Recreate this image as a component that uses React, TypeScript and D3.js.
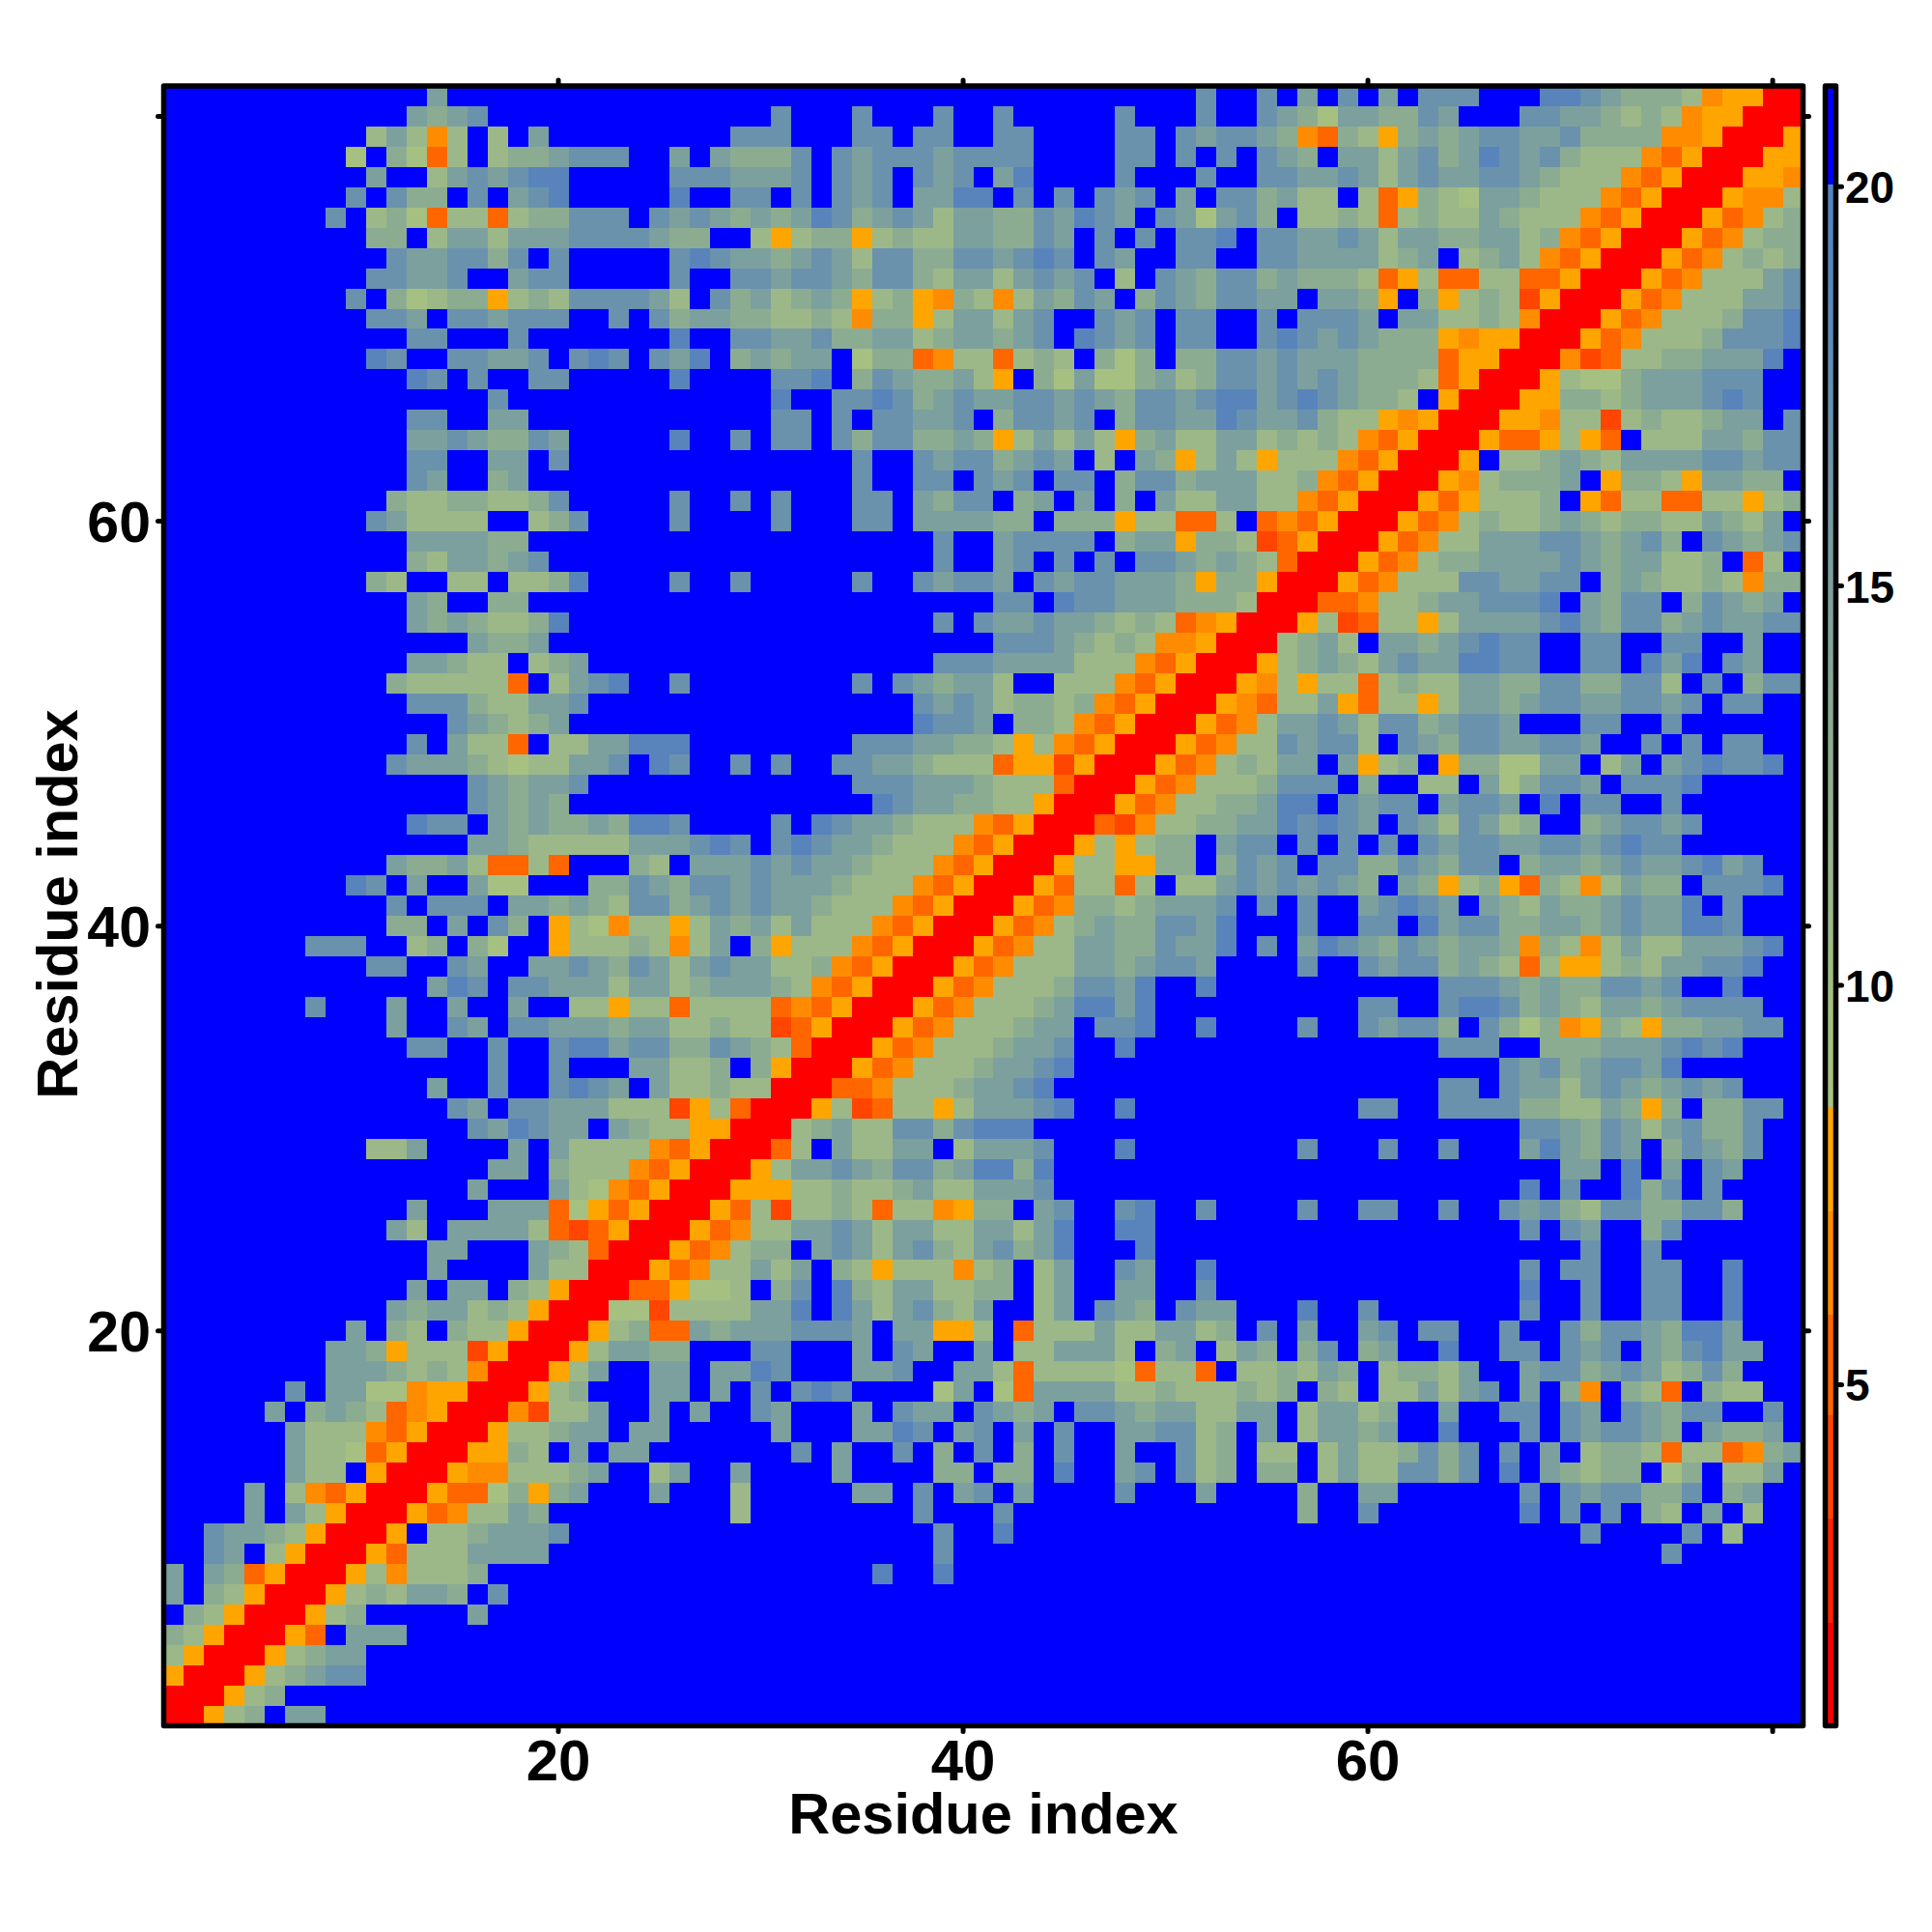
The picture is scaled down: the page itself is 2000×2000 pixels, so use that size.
import React from "react";
import * as d3 from "d3";

// Estimated pairwise distance per symbol, read from the colours of the picture.
const symbolValues: Record<string, number> = {
  ".": 21, l: 19, k: 17, j: 15, i: 13, h: 11, g: 9.5, a: 7.8, b: 6.5, c: 5.2, d: 3.9, r: 1.4,
};

// Rows run from residue 81 (top) to residue 1 (bottom). Residues 1-27.
const leftColumns = [
".............j.............",
"............jijk...........",
"..........hjhbh.h.j........",
".........g.igch.hiijkkk..j.",
"..........j..hjkjkll.....kk",
".........k.kii.k.jkl.....l.",
"........k.higchhchiikkk.kjk",
"..........ii.hjjhjjjkkkkjii",
"...........kjjkkik.k.....kl",
"..........kkjjk..jkk.....k.",
".........k.ighiiahihkkkkjh.",
"..........kkj.kkjkkk..k.kij",
"............kk...k.......l.",
"..........lk..kkjjk.klk.kjl",
"............lk.k..kk.....l.",
"................k..........",
"............kk..jj.........",
"............jjkjiikj.....l.",
"............kk..jj.k.......",
"............kj..ij.........",
"...........ihhiihhik.....k.",
"..........kjhhhh..hik....k.",
"............jjjjii.........",
"............ihjjijk........",
"..........ih..hh.hhil....k.",
"............ji..ii.........",
"............jijihhil.......",
"...............jiij........",
"............jjihh.hij......",
"...........ihhhhhc.hjkl..k.",
"............kkkihhjjk......",
"..............kjihij.......",
"............k.jhhc.hhjjlll.",
"...........kjjjihghhjjk.lk.",
"...............kjijjk......",
"...............kjiji.......",
"............lkk.jijiijillk.",
"...............jjihhhhhjjjk",
"...........jiijhcchc...ih.j",
".........lk.j..jgg...iikjik",
"...........k.kkk.jjijihkkij",
"...........ii.j.ki.ahgbhhah",
".......kkk..hi.ig..ahhhihbh",
"..........kk..kj..jjkjikjhj",
".............jlk.kkjjjhjjhi",
".......k...j..j..j..hhahhch",
"...........j..kj.kkjjjijjhh",
"............kk..k..klljkkii",
"................k..k...jjhh",
".............j..k..klkj.jhh",
"..............kj.kkjjjhhhda",
"...............kjlkjj.jihha",
"..........hhj....j.jhhhhbca",
"................jj.ihhhbcar",
"...............j...jhgbcarr",
"............j...jjjcgacarrr",
"...........jh.jjjjhcdcarrra",
".............jj...jihcrrrac",
".............j....jhhrrracb",
"............j.jj.iharrrccag",
"...........jijjhiharrrggdhh",
".........j.ih.ihharrrahiccj",
"........jjiahhhdarrrahjjii.",
"........jjjihihbrrrahj..jj.",
"......k.jjggbaarrrahi...jj.",
".....j.ijihcbarrrbdhhj..j.j",
"......jhhhbcarrrahhijj.jj..",
"......jhhgcarrraaih.j.jj...",
"......jhh.arrrabbhhhij..hj.",
"....j.hbcarrraccgiaij...j..",
"....j.jharrracbhhji........",
"..kjjiharrra.hhijjjk.......",
"..kj.harrrachhhjjjj........",
"j.jicarrrahbhhhi...........",
"j.iharrrahihjji.k..........",
".iharrrahi.....j...........",
"iharrrac.jjj...............",
"harrrahijj.................",
"arrrahijkk.................",
"rrrahi.....................",
"rrahi.jj...................",
];

// Residues 28-54.
const middleColumns = [
"........................k..",
"...k...k...k..k.....k...k..",
".kkk...kk.kk..kk....kk.kjkk",
"jiiik.kjkkkjkkkk....kk.k.k.",
"kjjjk.kjk.kjk.jl....k...k..",
".kk.k.kjk.jjll.k.k.kjk.j.kk",
"jijijlkijkjhjjiikjlkj.kjgjk",
"..hahiiahihhjjiikj.k.k.kkl.",
"kjjijkjhkkiikkjklk.kj..kk..",
".kkjkkjikkihjjhjkjk.h.kjikk",
"kijhijiahiabihbhjikj.ikjikk",
"jiihhihbiiahjjhjk..kjk.kk..",
".kkjjkiijjhijjijk.lkjk.kk..",
".ijijj.giicbhhchih.igi.iikk",
"...kkl.ikjiijha.igjggijhikk",
"...l..kklkijkjjkkjkjikkjkll",
"...kk.k.kkjjk.ikkjk.ikkjjlk",
".k.kk.kikkiijiahjhjhaijhhjj",
".......k..kjkkijkj.h.jiahjh",
".......k..kk.kjk.kk.ikkijjj",
".k.k...kk.jikk.ij.j.i.jhhjj",
"...k...kk.jjjjii.iiiahhcch.",
"...........k..jkkkk.ijjaiih",
"...........k..jk.k.k.kkjiji",
".k.....k..kjkkj.kjkkjjjiaii",
"..............kk.lkkjjjiiih",
"...........k.kjjkjjihihcbar",
"..............kkkjihihbbarr",
"...........kkkjjjjhhhbcarrr",
".......k.kjijjh..hhhbcarrra",
"..........kjkjhiihibcarrrab",
"..........lkkj.iihbcarrracb",
".......kkkjjiihahbcarrracbh",
".k.k..kkjjihhhcaadarrracbhi",
".......kkkjjjihhhcrrracbhhh",
"........lkjjiihharrracbhhii",
"...k.lkjjihhhbcarrrcdbhhiij",
"lk.klkjjihhhbcarrrahahii.jk",
"jjkjkjjihhhbcarrrahhaaii.ik",
"kjkjjjihhhbcarrrachhch.hhjk",
"kjkjjihhhbcarrracbiihijjjk.",
"jijhjhhhbcarrracbhijiikkjl.",
"j.iahhhbcarrracbhhjjiikjjl.",
"kjjhhibcarrracbhhhjjijkkj..",
"jjjihbcarrracbhhhikkjl..l..",
"hhhcbcarrracbhhhijlljl.....",
"ihhdcarrracbhhhijj.kkl..l..",
"kjihcrrracbhhhijjk..l......",
"i.iarrracbhhhijjkl.........",
"ihhrrrccbhhhijjkl..........",
"hcrrrahdchhahjjjkl..l......",
"arrrhijhhkkiklll...........",
"rrrch.jhhjj.hjjjk...l......",
"rrahjjkjikkijllil..........",
"raaahhihhijhhjjjk..........",
"achdhhihchhbaii.jk..kl..k..",
"cbhhjjkjhjjhhjjhjl..ll.....",
"bhii.jkjhjkihjkijl...l.....",
"hhjhj.ihahhhbhi.hj..kj..l..",
"gh.ik.lihjjhhii.hj..jj..k..",
"hhjjl.ljhjkihj..hj.kji.kjj.",
"ijjjkkkj.jjaah.chhhjhhjjhi.",
"..kk...j.kj..j.hhjjjh.ij.hj",
"jjlk...jjk..jjhchhhhgchhc.h",
"j.k.klk....gj.gcjjjjhhihhhi",
"..kj...j.kjj.kjij.kkjijjhhj",
"...j...jjlk.jk.j.k..jjkkhi.",
"....k.j..k.i.k.i.k..j..khi.",
".j....j....ii.ii.l..jk.khi.",
".h.....jj.k.jk.j....k...j..",
".h........k...k............",
"...........k..l............",
"...........k...............",
"........l..l...............",
"...........................",
"...........................",
"...........................",
"...........................",
"...........................",
"...........................",
"...........................",
];

// Residues 55-81.
const rightColumns = [
"k.j.k.j.kkk...llkjiiihbaarr",
"kjigjjiikj...kkjjihihbaarrr",
"jibcihaijijkkjjkiiiibbarrra",
"kji.jjhjkijlkjkihhhbcarrraa",
"kkjjkjhjkjjkkjihhhbcarrraab",
"ijhh.hcaihgjjihhhbcarrrabbh",
"i.hhihchihhjihhhbcarrracbhi",
"kkjjkjhjjiijjhibcarrracbhii",
"kkjjjjhij.hijhbcarrracbhihi",
"ijiiihcahcchhccarrracbhhhjk",
"jj.jjia.iahihdarrracbhhhjjk",
"k.kkkj.jjhhihbrrracbhhhikkl",
"klkjkjiiiabaarrracbhhhikkkl",
"jkjjjiiiicaarrrbdchhiijjjl.",
"jkjkjiiihcarrrahggijjjkkk..",
"jklkjiih.arrraaiihijjjklk..",
"jjkihhabarrraabhhdhihhijj.k",
"hihihbcarrraccahac.hhhjjikk",
"ahhhbcarrra.hhijihjjjjkkjkk",
"hhibcarrrabhiiij.aiihajjii.",
"hhbcarrracahhhi.achhcchhahi",
"cbcarrracbhihhijihiihhjihj.",
"dcarrracbhhjjjkkjijki.kjijk",
"hcrrracbhiijjjjkjijjhhi.ch.",
"arrracbhhhkkjjkk.ijihhihbii",
"rrrccbhhijjkkkl.jikk.ikjij.",
"rrahdchhahjjjjkljikkijkjjkk",
"rhijh.jjijklkk..kk..kk..j..",
"ahijihjkjjllkk..kk.ljl.kj..",
"bhahhchihhjjiikkiikkh.k.ikk",
"chhjachhahjjijkkjjkkjk.kk..",
"hjjkjhkkijkkj...kk..k......",
"hkjkkh.kjikkjjkkj..k.k.kk..",
"hjj.jahi.aiiggjj.hj.jklkkl.",
"ikkk.i..hh.jgikkj.kkkl.....",
"jll.kjkk.jkkj.l.kk..k......",
"jlklkj.kjhkjhi..ijkkjk.....",
"k.k.k.k.kjkkjjkkjklkk......",
"jk.kkiikjikk.ijjijkjjkljk..",
"jkjkji.jiahiacihbhjii.kkkl.",
"k.k..jklkj.jihjiijkjjl.k...",
"..k..kk.ljkkiijjijkjjllk...",
"k.jlkjikjijjibihbhjhhjjjkl.",
"..k..kjkkijihchaahihjjkkl..",
".........kkkjijiikkjk..l...",
".....kk..kllkijihjjijkkkk..",
"..k..kjkki.kigibaihaiijjkk.",
".........kkk..iiijjjklkl...",
"............kjkijkkjl......",
".........kk.kjjhjkjijkjk...",
".....kk..kkkkiihhjiai.iikk.",
".............kkjikjhjkiik..",
"..k...k..k...jljikj.ikjik..",
"...............jj.l.j.kj...",
".............l.k..lik.k....",
"..k..kk..k..kjkihkkiikki...",
".............k.kj..ik......",
"................k..k.......",
".............k.kk..kk..l...",
".............l..k..kk..l...",
"..l..k.......k..k..kk..l...",
"k.j..jk.kk..k..kikkjillj...",
"i.ik.ij..l..kk.kjk.jikljj..",
"hihji.hiihj..jkkijkjhiki...",
"hi.ih.hhjhjk.j.ib.ihc.ihh..",
"j.hjjhi..j..kk.kj.kjikk..k.",
"j.hjjij..l...k.kjkkji.jiij.",
"hh.hjhhikik.k.j.hiihchhcbij",
"ii.hjhhkkik.l.jihii.gi.hhj.",
"..i..jj......k.kjkkiik.ij..",
"..i..k.......l.k.k.ih.j.h..",
"................k....k.h...",
"....................k......",
"...........................",
"...........................",
"...........................",
"...........................",
"...........................",
"...........................",
"...........................",
"...........................",
];

const columnBlocks = [
  { firstResidue: 1, rows: leftColumns },
  { firstResidue: 28, rows: middleColumns },
  { firstResidue: 55, rows: rightColumns },
];

const axisTicks = [20, 40, 60, 80];
const axisLabels = [20, 40, 60];
const legendTicks = [5, 10, 15, 20];
const warmBandLimits = [2.015, 3.3, 4.585, 5.87, 7.155];
const warmBandColours = ["#ff0000", "#ff2200", "#ff4500", "#ff6600", "#ff8c00", "#ffa500"];
const coolStops = [8.44, 9.5, 11, 13, 15, 17, 19, 20];
const coolColours = ["#a9c281", "#a6c082", "#9cb888", "#8cac92", "#7ca09e", "#6a92ad", "#5884bb", "#5583bd"];
const warmLimit = 8.44;
const blueLimit = 20;
const legendDomain: [number, number] = [0.73, 21.26];

const warm = d3.scaleThreshold<number, string>().domain(warmBandLimits).range(warmBandColours);
const cool = d3.scaleLinear<string>().domain(coolStops).range(coolColours);
const colourOf = (v: number) => (v >= blueLimit ? "#0000ff" : v >= warmLimit ? cool(v) : warm(v));

const frame = { left: 169.5, right: 1866.5, top: 89, bottom: 1786.5 };
const x = d3.scaleLinear().domain([0.5, 81.5]).range([frame.left, frame.right]);
const y = d3.scaleLinear().domain([0.5, 81.5]).range([frame.bottom, frame.top]);
const legendY = d3.scaleLinear().domain(legendDomain).range([1786.5, 89]);
const legendX = { left: 1889.5, right: 1900.5 };
const legendSamples = d3.range(legendDomain[0], legendDomain[1], 0.05);
const FONT = "'Liberation Sans', Arial, Helvetica, sans-serif";
const tickLen = 6;
const stroke = 5.5;

function Cells() {
  const cells: React.ReactElement[] = [];
  columnBlocks.forEach(({ firstResidue, rows }) => {
    rows.forEach((row, r) => {
      const residueY = 81 - r;
      row.split("").forEach((ch, c) => {
        const residueX = firstResidue + c;
        cells.push(
          <rect
            key={`${residueX}-${residueY}`}
            x={x(residueX - 0.5)}
            y={y(residueY + 0.5)}
            width={x(residueX + 0.5) - x(residueX - 0.5)}
            height={y(residueY - 0.5) - y(residueY + 0.5)}
            fill={colourOf(symbolValues[ch])}
          />
        );
      });
    });
  });
  return <g shapeRendering="crispEdges">{cells}</g>;
}

export default function App() {
  const tickProps = { stroke: "#000", strokeWidth: 5, strokeLinecap: "round" as const };
  return (
    <svg
      width={2000}
      height={2000}
      viewBox="0 0 2000 2000"
      style={{ position: "absolute", left: 0, top: 0, background: "#fff" }}
      fontFamily={FONT}
      fontWeight={700}
    >
      <rect width={2000} height={2000} fill="#fff" />
      <Cells />

      {axisTicks.map((t) => (
        <g key={t}>
          <line x1={x(t)} x2={x(t)} y1={frame.bottom} y2={frame.bottom + tickLen} {...tickProps} />
          <line x1={x(t)} x2={x(t)} y1={frame.top} y2={frame.top - tickLen} {...tickProps} />
          <line y1={y(t)} y2={y(t)} x1={frame.left} x2={frame.left - tickLen} {...tickProps} />
          <line y1={y(t)} y2={y(t)} x1={frame.right} x2={frame.right + tickLen} {...tickProps} />
        </g>
      ))}
      <rect
        x={frame.left}
        y={frame.top}
        width={frame.right - frame.left}
        height={frame.bottom - frame.top}
        fill="none"
        stroke="#000"
        strokeWidth={stroke}
        strokeLinejoin="round"
      />

      {axisLabels.map((t) => (
        <text key={t} x={x(t)} y={1843} textAnchor="middle" fontSize={60}>
          {t}
        </text>
      ))}
      {axisLabels.map((t) => (
        <text key={t} x={156} y={y(t) + 21} textAnchor="end" fontSize={59}>
          {t}
        </text>
      ))}
      <text x={1018} y={1898} textAnchor="middle" fontSize={59.5}>
        Residue index
      </text>
      <text transform="translate(80,936) rotate(-90)" textAnchor="middle" fontSize={59.5}>
        Residue index
      </text>

      <g shapeRendering="crispEdges">
        {legendSamples.map((v) => (
          <rect
            key={v}
            x={legendX.left}
            width={legendX.right - legendX.left}
            y={legendY(v + 0.05)}
            height={legendY(v) - legendY(v + 0.05) + 0.5}
            fill={colourOf(v)}
          />
        ))}
      </g>
      {legendTicks.map((t) => (
        <g key={t}>
          <line x1={legendX.right} x2={legendX.right + tickLen} y1={legendY(t)} y2={legendY(t)} {...tickProps} />
          <text x={1910} y={legendY(t) + 17} fontSize={46}>
            {t}
          </text>
        </g>
      ))}
      <rect
        x={legendX.left}
        y={frame.top}
        width={legendX.right - legendX.left}
        height={frame.bottom - frame.top}
        fill="none"
        stroke="#000"
        strokeWidth={stroke}
        strokeLinejoin="round"
      />
    </svg>
  );
}
